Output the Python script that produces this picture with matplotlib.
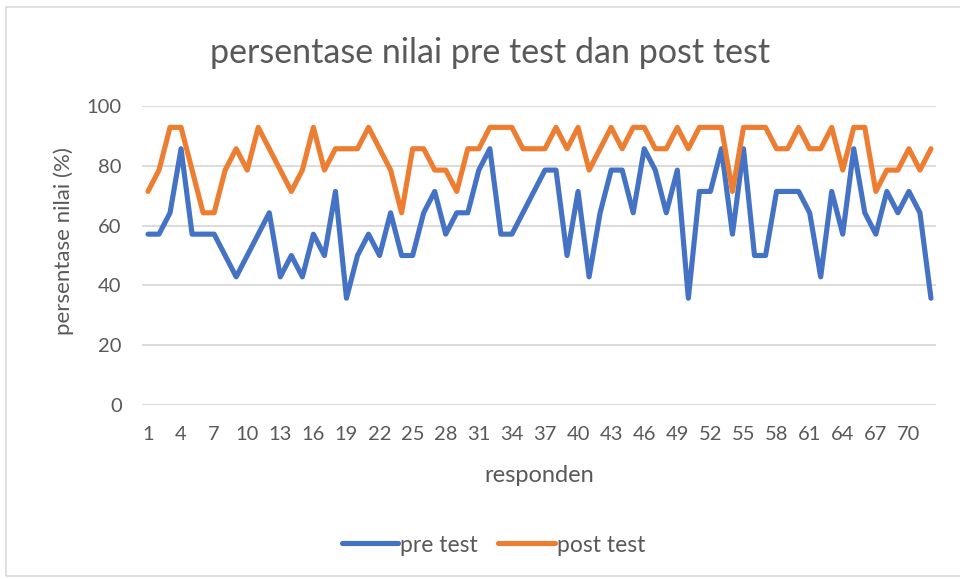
import matplotlib
matplotlib.use('Agg')
import matplotlib.pyplot as plt
from matplotlib.patches import Rectangle

plt.rcParams['font.family'] = ['Lato', 'DejaVu Sans']

# nilai tiap responden (kelipatan 100/14)
responden = list(range(1, 73))
pre_test = [57.14, 57.14, 64.29, 85.71, 57.14, 57.14, 57.14, 50.00, 42.86, 50.00,
            57.14, 64.29, 42.86, 50.00, 42.86, 57.14, 50.00, 71.43, 35.71, 50.00,
            57.14, 50.00, 64.29, 50.00, 50.00, 64.29, 71.43, 57.14, 64.29, 64.29,
            78.57, 85.71, 57.14, 57.14, 64.29, 71.43, 78.57, 78.57, 50.00, 71.43,
            42.86, 64.29, 78.57, 78.57, 64.29, 85.71, 78.57, 64.29, 78.57, 35.71,
            71.43, 71.43, 85.71, 57.14, 85.71, 50.00, 50.00, 71.43, 71.43, 71.43,
            64.29, 42.86, 71.43, 57.14, 85.71, 64.29, 57.14, 71.43, 64.29, 71.43,
            64.29, 35.71]
post_test = [71.43, 78.57, 92.86, 92.86, 78.57, 64.29, 64.29, 78.57, 85.71, 78.57,
             92.86, 85.71, 78.57, 71.43, 78.57, 92.86, 78.57, 85.71, 85.71, 85.71,
             92.86, 85.71, 78.57, 64.29, 85.71, 85.71, 78.57, 78.57, 71.43, 85.71,
             85.71, 92.86, 92.86, 92.86, 85.71, 85.71, 85.71, 92.86, 85.71, 92.86,
             78.57, 85.71, 92.86, 85.71, 92.86, 92.86, 85.71, 85.71, 92.86, 85.71,
             92.86, 92.86, 92.86, 71.43, 92.86, 92.86, 92.86, 85.71, 85.71, 92.86,
             85.71, 85.71, 92.86, 78.57, 92.86, 92.86, 71.43, 78.57, 78.57, 85.71,
             78.57, 85.71]

abu = '#595959'

fig = plt.figure(figsize=(9.6, 5.79), dpi=100)
fig.patches.append(Rectangle((0.0065, 0.005), 1.2, 0.983, transform=fig.transFigure,
                             fill=False, edgecolor='#D9D9D9', linewidth=1.2))

ax = fig.add_axes([0.1484, 0.3005, 0.8271, 0.5164])
ax.plot(responden, pre_test, color='#4472C4', linewidth=3.7, label='pre test',
        solid_joinstyle='round', solid_capstyle='round')
ax.plot(responden, post_test, color='#ED7D31', linewidth=3.7, label='post test',
        solid_joinstyle='round', solid_capstyle='round')

ax.set_xlim(0.5, 72.5)
ax.set_ylim(0, 100)
ax.set_yticks(range(0, 101, 20))
ax.set_xticks(responden[::3])
ax.grid(axis='y', color='#D9D9D9', linewidth=1.3)
ax.set_axisbelow(True)
for s in ax.spines.values():
    s.set_visible(False)
ax.tick_params(length=0, labelsize=14.5, labelcolor=abu)
ax.tick_params(axis='x', pad=15)
ax.tick_params(axis='y', pad=15)

fig.text(0.511, 1 - 53 / 579, 'persentase nilai pre test dan post test',
         fontsize=24.5, color=abu, ha='center', va='center')
ax.set_xlabel('responden', fontsize=17, color=abu)
ax.xaxis.set_label_coords(0.5, -(475 - 405) / 299, transform=ax.transAxes)
ax.xaxis.label.set_va('center')
ax.set_ylabel('persentase nilai (%)', fontsize=16, color=abu)
ax.yaxis.set_label_coords(-(142.5 - 64) / 794, (405 - 241) / 299)
ax.yaxis.label.set_va('center')

fig.legend(loc='center', bbox_to_anchor=(0.514, 1 - 545 / 579), ncol=2, frameon=False,
           fontsize=16.5, labelcolor=abu, handlelength=2.45, handletextpad=0.1,
           columnspacing=0.9)

plt.savefig('out.png', dpi=100)
